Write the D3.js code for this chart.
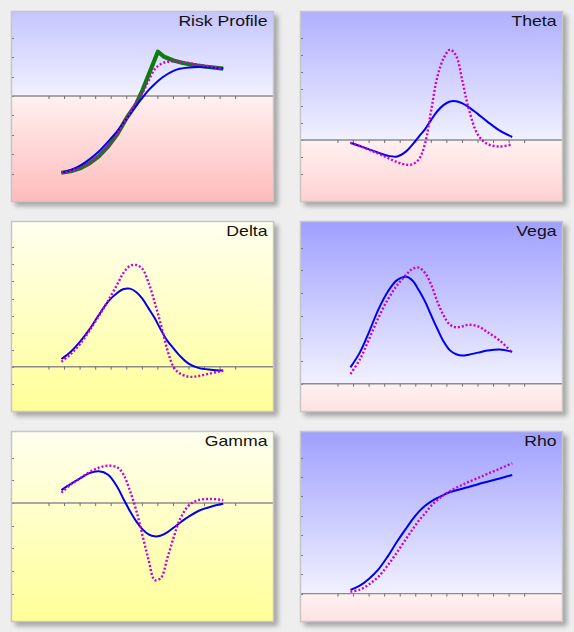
<!DOCTYPE html>
<html><head><meta charset="utf-8">
<script src="https://cdn.jsdelivr.net/npm/d3@7"></script>
<style>html,body{margin:0;padding:0;background:#eeeeee;overflow:hidden}</style>
</head><body>
<script>
// ---------- data ----------
const prices = [74,77,80,83,86,89,92,94,96,98,100,102,104,106,108,110,112,115,118,122,126];
const xTickValues = [70,75,80,85,90,95,100,105,110,115,120,125,130];

const riskBlue   = [-3.95,-3.81,-3.58,-3.26,-2.86,-2.35,-1.80,-1.37,-0.94,-0.51,-0.10,0.30,0.62,0.90,1.12,1.29,1.40,1.47,1.49,1.47,1.41];
const riskDotted = [-3.95,-3.86,-3.70,-3.45,-3.08,-2.58,-1.93,-1.42,-0.88,-0.32,0.15,0.78,1.38,1.65,1.76,1.79,1.77,1.70,1.61,1.51,1.41];
const riskPayoffX = [74,77,80,83,86,89,92,95,98,100,105,107,110,113,116,120,126];
const riskPayoff  = [-3.95,-3.87,-3.72,-3.47,-3.10,-2.60,-1.95,-1.12,-0.42,0.28,2.28,2.02,1.83,1.70,1.61,1.52,1.41];
const riskYTicks = [-4,-3,-2,-1,0,1,2,3];

const thetaBlue   = [-0.16,-0.35,-0.55,-0.74,-0.92,-0.96,-0.65,-0.25,0.20,0.64,1.20,1.70,2.06,2.26,2.27,2.15,1.93,1.52,1.08,0.55,0.18];
const thetaDotted = [-0.16,-0.35,-0.57,-0.80,-1.05,-1.29,-1.45,-1.41,-1.13,-0.20,1.80,3.75,4.80,5.30,4.92,3.45,1.85,0.30,-0.23,-0.38,-0.25];
const thetaYTicks = [-2,-1,0,1,2,3,4,5,6];

const deltaBlue   = [0.45,0.88,1.47,2.19,3.03,3.82,4.34,4.56,4.58,4.38,3.99,3.42,2.84,2.15,1.53,1.08,0.65,0.16,-0.07,-0.18,-0.23];
const deltaDotted = [0.29,0.75,1.33,2.11,2.97,3.87,4.85,5.52,5.91,5.97,5.75,4.93,3.76,2.45,1.02,0.0,-0.39,-0.59,-0.55,-0.39,-0.23];
const deltaYTicks = [-1,0,1,2,3,4,5,6,7];

const vegaBlue   = [0.72,1.37,2.29,3.28,4.06,4.57,4.72,4.54,4.12,3.62,3.00,2.40,1.85,1.47,1.30,1.24,1.28,1.37,1.46,1.51,1.41];
const vegaDotted = [0.43,1.06,1.97,2.91,3.71,4.34,4.82,5.07,5.12,4.88,4.35,3.60,3.00,2.60,2.49,2.53,2.60,2.53,2.28,1.90,1.37];
const vegaYTicks = [0,1,2,3,4,5,6];

const gammaBlue   = [0.57,0.85,1.09,1.32,1.40,1.25,0.70,0.16,-0.35,-0.80,-1.15,-1.38,-1.47,-1.43,-1.29,-1.09,-0.88,-0.59,-0.35,-0.16,-0.03];
const gammaDotted = [0.46,0.82,1.09,1.37,1.56,1.65,1.57,1.25,0.55,-0.30,-1.40,-2.50,-3.40,-3.30,-2.45,-1.55,-0.75,-0.10,0.13,0.18,0.13];
const gammaYTicks = [-4,-3,-2,-1,0,1,2];

const rhoBlue   = [0.19,0.41,0.77,1.25,1.92,2.68,3.38,3.83,4.22,4.52,4.75,4.93,5.08,5.23,5.32,5.40,5.49,5.63,5.76,5.93,6.11];
const rhoDotted = [0.10,0.20,0.48,0.87,1.46,2.13,2.85,3.31,3.76,4.13,4.53,4.82,5.08,5.27,5.45,5.60,5.75,5.95,6.16,6.43,6.71];
const rhoYTicks = [0,1,2,3,4,5,6,7];

// ---------- layout ----------
const W = 263, H = 191;
const colX = [11, 300], rowY = [11, 221, 431];
const panels = [
  {title:"Risk Profile", c:0, r:0, theme:"bp", dom:[-5.455,4.375], yTicks:riskYTicks,
   series:[{x:riskPayoffX, y:riskPayoff, kind:"payoff"},{x:prices, y:riskBlue, kind:"model"},{x:prices, y:riskDotted, kind:"dotted"}]},
  {title:"Theta", c:1, r:0, theme:"bp", dom:[-3.63,7.56], yTicks:thetaYTicks,
   series:[{x:prices, y:thetaBlue, kind:"model"},{x:prices, y:thetaDotted, kind:"dotted"}]},
  {title:"Delta", c:0, r:1, theme:"yl", dom:[-2.66,8.55], yTicks:deltaYTicks,
   series:[{x:prices, y:deltaBlue, kind:"model"},{x:prices, y:deltaDotted, kind:"dotted"}]},
  {title:"Vega", c:1, r:1, theme:"bp", dom:[-1.25,7.18], yTicks:vegaYTicks,
   series:[{x:prices, y:vegaBlue, kind:"model"},{x:prices, y:vegaDotted, kind:"dotted"}]},
  {title:"Gamma", c:0, r:2, theme:"yl", dom:[-5.25,3.18], yTicks:gammaYTicks,
   series:[{x:prices, y:gammaBlue, kind:"model"},{x:prices, y:gammaDotted, kind:"dotted"}]},
  {title:"Rho", c:1, r:2, theme:"bp", dom:[-1.46,8.37], yTicks:rhoYTicks,
   series:[{x:prices, y:rhoBlue, kind:"model"},{x:prices, y:rhoDotted, kind:"dotted"}]}
];

const svg = d3.select("body").append("svg").attr("width",574).attr("height",632)
  .style("display","block").style("background","#eeeeee");
const defs = svg.append("defs");
const f = defs.append("filter").attr("id","shadow").attr("x","-10%").attr("y","-10%").attr("width","125%").attr("height","125%");
f.append("feGaussianBlur").attr("in","SourceAlpha").attr("stdDeviation",2.6).attr("result","b");
f.append("feOffset").attr("in","b").attr("dx",3.5).attr("dy",3.5).attr("result","o");
f.append("feComponentTransfer").attr("in","o").append("feFuncA").attr("type","linear").attr("slope",0.32);

const x = d3.scaleLinear().domain([57.79,142.32]).range([0,W]);

function grad(id, c1, c2){
  const g = defs.append("linearGradient").attr("id",id).attr("x1",0).attr("y1",0).attr("x2",0).attr("y2",1);
  g.append("stop").attr("offset","0%").attr("stop-color",c1);
  g.append("stop").attr("offset","100%").attr("stop-color",c2);
}

const styles = {
  payoff:{stroke:"#0b7d0b", width:4.2, dash:null, curve:d3.curveLinear},
  model:{stroke:"#0000f0", width:2, dash:null, curve:d3.curveCatmullRom.alpha(0.5)},
  dotted:{stroke:"#cc00cc", width:2.4, dash:"2,2", curve:d3.curveCatmullRom.alpha(0.5)}
};

panels.forEach((p,i)=>{
  const g = svg.append("g").attr("transform",`translate(${colX[p.c]},${rowY[p.r]})`);
  const y = d3.scaleLinear().domain(p.dom).range([H,0]);
  const z = y(0);
  // shadow
  g.append("rect").attr("width",W).attr("height",H).attr("fill","#000").attr("filter","url(#shadow)");
  if(p.theme==="bp"){
    const top = Math.round(240 - 0.5*z), bot = Math.round(240 - 0.5*(H-z));
    grad("ga"+i, `rgb(${top},${top},255)`, "rgb(241,241,255)");
    grad("gb"+i, "rgb(255,241,241)", `rgb(255,${bot},${bot})`);
    g.append("rect").attr("width",W).attr("height",z).attr("fill",`url(#ga${i})`);
    g.append("rect").attr("y",z).attr("width",W).attr("height",H-z).attr("fill",`url(#gb${i})`);
  } else {
    grad("gy"+i, "#fffff0", "#ffff98");
    g.append("rect").attr("width",W).attr("height",H).attr("fill",`url(#gy${i})`);
  }
  // y ticks
  g.selectAll(".yt").data(p.yTicks).join("line")
    .attr("x1",0).attr("x2",3).attr("y1",d=>Math.round(y(d))+0.5).attr("y2",d=>Math.round(y(d))+0.5)
    .attr("stroke","#707080").attr("stroke-width",1);
  // x axis
  g.append("line").attr("x1",0).attr("x2",W).attr("y1",z).attr("y2",z)
    .attr("stroke","#8c8c8c").attr("stroke-width",1.4);
  g.selectAll(".xt").data(xTickValues).join("line")
    .attr("x1",d=>x(d)).attr("x2",d=>x(d)).attr("y1",z).attr("y2",z+3)
    .attr("stroke","#707070").attr("stroke-width",1);
  // series
  p.series.forEach(s=>{
    const st = styles[s.kind];
    const pts = s.x.map((v,k)=>[v, s.y[k]]);
    const line = d3.line().x(d=>x(d[0])).y(d=>y(d[1])).curve(st.curve);
    g.append("path").attr("d",line(pts)).attr("fill","none")
      .attr("stroke",st.stroke).attr("stroke-width",st.width)
      .attr("stroke-dasharray",st.dash).attr("stroke-linejoin","round");
  });
  // border
  g.append("rect").attr("x",0.5).attr("y",0.5).attr("width",W-1).attr("height",H-1)
    .attr("fill","none").attr("stroke","#c6c6c6").attr("stroke-width",1.5);
  // title
  g.append("text").attr("transform",`translate(${W-6.5},15) scale(1.26,1)`)
    .attr("text-anchor","end").attr("font-family","'Liberation Sans', Arial, sans-serif")
    .attr("font-size","14px").attr("fill","#111").text(p.title);
});
</script>
</body></html>
